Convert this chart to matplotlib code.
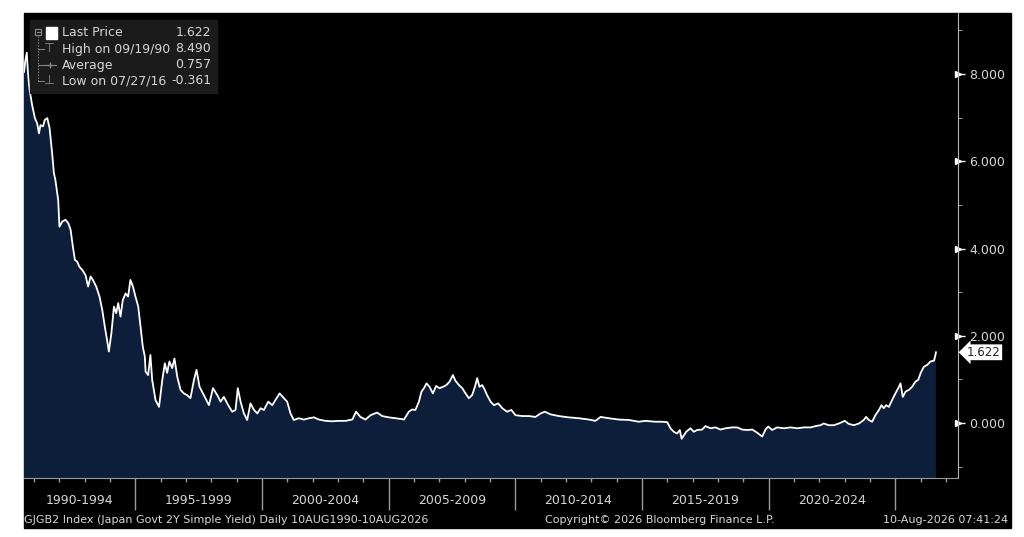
import matplotlib
matplotlib.use('Agg')
import matplotlib.pyplot as plt
import matplotlib.transforms as mtransforms
from matplotlib.patches import Rectangle
from matplotlib.lines import Line2D

W, H = 1024, 537

# GJGB2 2Y yield (decimal year, yield %)
years = [1990.61, 1990.66, 1990.72, 1990.76, 1990.80, 1990.83, 1990.93, 1991.04, 1991.13, 1991.20,
         1991.26, 1991.36, 1991.43, 1991.53, 1991.62, 1991.72, 1991.79, 1991.85, 1991.96, 1992.01,
         1992.12, 1992.25, 1992.36, 1992.45, 1992.54, 1992.62, 1992.71, 1992.80, 1992.91, 1993.04,
         1993.14, 1993.24, 1993.33, 1993.46, 1993.59, 1993.70, 1993.80, 1993.89, 1993.96, 1994.06,
         1994.16, 1994.25, 1994.33, 1994.42, 1994.51, 1994.62, 1994.72, 1994.81, 1994.91, 1995.01,
         1995.12, 1995.21, 1995.30, 1995.38, 1995.41, 1995.51, 1995.60, 1995.67, 1995.80, 1995.94,
         1996.07, 1996.17, 1996.26, 1996.35, 1996.46, 1996.55, 1996.66, 1996.79, 1996.92, 1997.05,
         1997.18, 1997.32, 1997.42, 1997.54, 1997.71, 1997.91, 1998.07, 1998.24, 1998.37, 1998.50,
         1998.67, 1998.83, 1998.96, 1999.05, 1999.16, 1999.29, 1999.42, 1999.55, 1999.69, 1999.82,
         1999.95, 2000.08, 2000.25, 2000.41, 2000.54, 2000.70, 2000.87, 2001.00, 2001.13, 2001.26,
         2001.46, 2001.66, 2001.86, 2002.05, 2002.25, 2002.51, 2002.78, 2003.04, 2003.30, 2003.57,
         2003.72, 2003.89, 2004.09, 2004.29, 2004.55, 2004.75, 2005.01, 2005.28, 2005.54, 2005.61,
         2005.80, 2005.93, 2006.06, 2006.20, 2006.30, 2006.40, 2006.50, 2006.62, 2006.75, 2006.88,
         2007.01, 2007.15, 2007.28, 2007.41, 2007.54, 2007.64, 2007.78, 2007.91, 2008.04, 2008.17,
         2008.30, 2008.41, 2008.50, 2008.59, 2008.70, 2008.80, 2008.89, 2009.03, 2009.16, 2009.33,
         2009.49, 2009.68, 2009.85, 2010.01, 2010.28, 2010.54, 2010.80, 2011.00, 2011.17, 2011.39,
         2011.72, 2012.12, 2012.51, 2012.91, 2013.17, 2013.37, 2013.70, 2014.09, 2014.49, 2014.88,
         2015.14, 2015.54, 2015.80, 2016.00, 2016.13, 2016.26, 2016.39, 2016.50, 2016.57, 2016.75,
         2016.92, 2017.05, 2017.18, 2017.38, 2017.51, 2017.71, 2017.91, 2018.10, 2018.30, 2018.57,
         2018.76, 2018.96, 2019.16, 2019.36, 2019.55, 2019.75, 2019.88, 2019.99, 2020.14, 2020.34,
         2020.61, 2020.87, 2021.13, 2021.40, 2021.66, 2021.86, 2022.05, 2022.18, 2022.38, 2022.58,
         2022.78, 2023.01, 2023.17, 2023.37, 2023.57, 2023.76, 2023.85, 2023.96, 2024.09, 2024.22,
         2024.36, 2024.46, 2024.55, 2024.64, 2024.75, 2024.88, 2025.01, 2025.12, 2025.21, 2025.30,
         2025.41, 2025.54, 2025.67, 2025.80, 2025.91, 2026.00, 2026.13, 2026.26, 2026.39, 2026.53,
         2026.59, 2026.61]
yields = [8.05, 8.30, 8.49, 8.10, 7.80, 7.64, 7.29, 6.99, 6.87, 6.64,
          6.83, 6.80, 6.95, 6.99, 6.76, 6.19, 5.73, 5.57, 5.11, 4.50,
          4.62, 4.66, 4.58, 4.43, 4.04, 3.74, 3.70, 3.58, 3.51, 3.39,
          3.13, 3.36, 3.28, 3.13, 2.90, 2.59, 2.21, 1.90, 1.64, 2.06,
          2.67, 2.52, 2.75, 2.44, 2.82, 2.97, 2.90, 3.28, 3.13, 2.90,
          2.67, 2.21, 1.75, 1.52, 1.18, 1.10, 1.56, 0.99, 0.53, 0.37,
          0.99, 1.37, 1.15, 1.41, 1.26, 1.48, 1.06, 0.76, 0.68, 0.64,
          0.57, 0.99, 1.22, 0.83, 0.64, 0.41, 0.80, 0.64, 0.49, 0.60,
          0.41, 0.26, 0.30, 0.80, 0.49, 0.22, 0.07, 0.45, 0.30, 0.22,
          0.34, 0.30, 0.49, 0.41, 0.53, 0.68, 0.57, 0.49, 0.22, 0.07,
          0.11, 0.08, 0.11, 0.13, 0.08, 0.05, 0.04, 0.05, 0.05, 0.08,
          0.26, 0.14, 0.08, 0.18, 0.24, 0.16, 0.13, 0.11, 0.09, 0.08,
          0.26, 0.31, 0.30, 0.49, 0.72, 0.80, 0.91, 0.83, 0.68, 0.85,
          0.80, 0.83, 0.87, 0.95, 1.10, 0.97, 0.87, 0.80, 0.68, 0.57,
          0.64, 0.83, 1.03, 0.83, 0.87, 0.76, 0.64, 0.49, 0.41, 0.45,
          0.34, 0.26, 0.30, 0.18, 0.16, 0.16, 0.14, 0.22, 0.26, 0.20,
          0.16, 0.13, 0.11, 0.08, 0.05, 0.14, 0.11, 0.08, 0.07, 0.03,
          0.05, 0.03, 0.03, 0.02, -0.12, -0.20, -0.24, -0.16, -0.361, -0.20,
          -0.12, -0.20, -0.16, -0.15, -0.07, -0.12, -0.10, -0.15, -0.12, -0.10,
          -0.10, -0.15, -0.16, -0.15, -0.22, -0.31, -0.15, -0.08, -0.16, -0.10,
          -0.12, -0.10, -0.12, -0.10, -0.10, -0.07, -0.05, -0.01, -0.05, -0.05,
          -0.01, 0.05, -0.02, -0.05, -0.01, 0.07, 0.14, 0.07, 0.03, 0.18,
          0.30, 0.41, 0.34, 0.41, 0.37, 0.53, 0.68, 0.80, 0.91, 0.60,
          0.72, 0.76, 0.83, 0.95, 0.99, 1.14, 1.29, 1.33, 1.41, 1.43,
          1.56, 1.622]

last_price = 1.622
high_val, high_date = 8.490, '09/19/90'
avg_val = 0.757
low_val, low_date = -0.361, '07/27/16'

period_labels = ['1990-1994', '1995-1999', '2000-2004', '2005-2009',
                 '2010-2014', '2015-2019', '2020-2024']
period_centers = [1992.8, 1997.5, 2002.5, 2007.5, 2012.5, 2017.5, 2022.5]
separators = [1995, 2000, 2005, 2010, 2015, 2020, 2025]
year_ticks = list(range(1991, 2028))
y_major = [0, 2, 4, 6, 8]
y_minor = [-1, 1, 3, 5, 7, 9]

fill_color = '#0d1e3b'
text_color = '#d6d6d6'
grey = '#9a9a9a'


def fx(px):
    return px / W


def fy(py):
    return 1 - py / H


fig = plt.figure(figsize=(W / 100, H / 100), dpi=100, facecolor='white')
fig.add_artist(Rectangle((fx(24), fy(528)), fx(1011) - fx(24), fy(13) - fy(528),
                         transform=fig.transFigure, color='black', zorder=-1))

ax_l, ax_r, ax_t, ax_b = 24, 958, 13, 478
ax = fig.add_axes([fx(ax_l), fy(ax_b), fx(ax_r) - fx(ax_l), fy(ax_t) - fy(ax_b)])
ax.set_facecolor('black')

ax.fill_between(years, yields, -5, color=fill_color, lw=0)
ax.plot(years, yields, color='white', lw=1.3)
ax.set_xlim(1990.61, 2027.48)
ax.set_ylim(-1.26, 9.40)

for s in ['left', 'top']:
    ax.spines[s].set_visible(False)
ax.spines['bottom'].set_color(grey)
ax.spines['right'].set_color('#b8b8b8')

# right value axis
ax.yaxis.tick_right()
ax.set_yticks(y_major)
ax.set_yticklabels([f'{v:.3f}' for v in y_major])
ax.set_yticks(y_minor, minor=True)
ax.tick_params(axis='y', which='major', length=5, width=1, color='white',
               pad=3, labelcolor=text_color, labelsize=9)
ax.tick_params(axis='y', which='minor', length=3, color='#b8b8b8')
tri = mtransforms.blended_transform_factory(ax.transAxes, ax.transData)
ax.plot([1.0] * len(y_major), y_major, ls='none', marker='>', ms=4.5,
        color='white', transform=tri, clip_on=False)

# last price tag
ax.text(1.0 + 9 / (ax_r - ax_l), last_price, f'{last_price:.3f}', transform=tri,
        ha='left', va='center', fontsize=8.5, color='#222222', clip_on=False,
        bbox=dict(boxstyle='larrow,pad=0.12', fc='white', ec='none'))

# bottom time axis
ax.set_xticks(separators)
ax.set_xticklabels([])
ax.set_xticks(year_ticks, minor=True)
ax.tick_params(axis='x', which='major', length=23, width=1, color=grey)
ax.tick_params(axis='x', which='minor', length=3, width=1, color=grey)
xt = ax.get_xaxis_transform()
lab_y = -(500 - ax_b) / (ax_b - ax_t)
for c, lab in zip(period_centers, period_labels):
    ax.text(c, lab_y, lab, transform=xt, ha='center', va='center',
            fontsize=9, color=text_color)

# footer
fig.text(fx(24), fy(520), 'GJGB2 Index (Japan Govt 2Y Simple Yield) Daily 10AUG1990-10AUG2026',
         ha='left', va='center', fontsize=8, color=text_color)
fig.text(fx(545), fy(520), 'Copyright\u00a9 2026 Bloomberg Finance L.P.',
         ha='left', va='center', fontsize=8, color=text_color)
fig.text(fx(1008), fy(520), '10-Aug-2026 07:41:24',
         ha='right', va='center', fontsize=8, color=text_color)

# legend box
fig.add_artist(Rectangle((fx(30), fy(93)), fx(217) - fx(30), fy(20) - fy(93),
                         transform=fig.transFigure, color='#1b1b1b', zorder=5))
rows = [('Last Price', last_price), (f'High on {high_date}', high_val),
        ('Average', avg_val), (f'Low on {low_date}', low_val)]
row_y = [33, 49, 65, 81]
for (name, val), ry in zip(rows, row_y):
    fig.text(fx(62), fy(ry), name, ha='left', va='center', fontsize=9,
             color=text_color, zorder=6)
    fig.text(fx(211), fy(ry), f'{val:.3f}', ha='right', va='center', fontsize=9,
             color=text_color, zorder=6)

icon = '#8a8a8a'
fig.add_artist(Rectangle((fx(35), fy(35)), fx(41) - fx(35), fy(29) - fy(35), transform=fig.transFigure,
                         fill=False, ec=icon, lw=0.8, zorder=6))
fig.add_artist(Line2D([fx(36.5), fx(39.5)], [fy(32), fy(32)], transform=fig.transFigure,
                      color=icon, lw=0.8, zorder=6))
fig.add_artist(Rectangle((fx(46), fy(39)), fx(57) - fx(46), fy(27) - fy(39), transform=fig.transFigure,
                         color='white', zorder=6))
fig.add_artist(Line2D([fx(38), fx(38)], [fy(36), fy(82)], transform=fig.transFigure,
                      color=icon, lw=0.7, ls=(0, (1.5, 1.5)), zorder=6))
for ry in row_y[1:]:
    fig.add_artist(Line2D([fx(38), fx(44)], [fy(ry), fy(ry)], transform=fig.transFigure,
                          color=icon, lw=0.7, zorder=6))
fig.text(fx(49.5), fy(48), '\u22a4', ha='center', va='center', fontsize=9, color=icon, zorder=6)
fig.add_artist(Line2D([fx(44), fx(56)], [fy(65), fy(65)], transform=fig.transFigure,
                      color=icon, lw=0.8, zorder=6))
fig.add_artist(Line2D([fx(50)], [fy(65)], transform=fig.transFigure,
                      color=icon, marker='+', ms=5, mew=0.9, zorder=6))
fig.text(fx(49.5), fy(80), '\u22a5', ha='center', va='center', fontsize=9, color=icon, zorder=6)

fig.savefig('out.png', dpi=100, facecolor='white')
